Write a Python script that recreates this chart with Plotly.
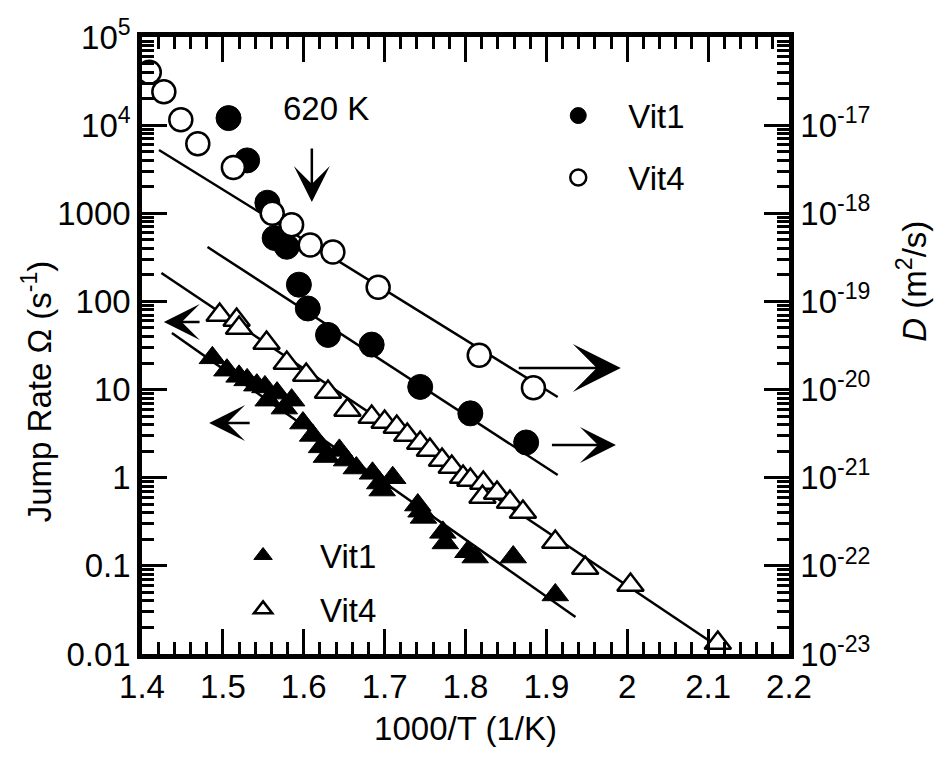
import numpy as np
import plotly.graph_objects as go

# ---------------- data ----------------
# Jump rate (left axis, s^-1) -- triangles
vit1_tri_x = [1.487, 1.505, 1.520, 1.530, 1.542, 1.552, 1.556, 1.567, 1.576, 1.585,
              1.599, 1.611, 1.622, 1.628, 1.644, 1.653, 1.665, 1.685, 1.694, 1.697,
              1.710, 1.741, 1.748, 1.745, 1.772, 1.775, 1.803, 1.812, 1.859, 1.911]
vit1_tri_log = [1.36, 1.22, 1.15, 1.11, 1.05, 1.03, 0.88, 0.96, 0.79, 0.88,
                0.62, 0.48, 0.35, 0.24, 0.31, 0.20, 0.11, 0.05, -0.06, -0.14,
                0.00, -0.31, -0.45, -0.38, -0.62, -0.74, -0.84, -0.90, -0.90, -1.33]
vit4_tri_x = [1.496, 1.517, 1.520, 1.554, 1.579, 1.603, 1.630, 1.654, 1.684, 1.700,
              1.715, 1.728, 1.744, 1.756, 1.771, 1.783, 1.797, 1.806, 1.822, 1.821,
              1.839, 1.855, 1.871, 1.911, 1.948, 2.004, 2.112]
vit4_tri_log = [1.846, 1.789, 1.698, 1.528, 1.301, 1.165, 0.972, 0.768, 0.689, 0.632,
                0.575, 0.484, 0.394, 0.314, 0.201, 0.121, 0.008, -0.026, -0.060, -0.219,
                -0.174, -0.276, -0.389, -0.730, -1.025, -1.217, -1.875]

# Diffusivity (right axis, m^2/s) -- circles, given as log10(D)
vit1_circ_x = [1.507, 1.530, 1.555, 1.564, 1.579, 1.594, 1.605, 1.630, 1.684, 1.744, 1.806, 1.875]
vit1_circ_logD = [-16.92, -17.40, -17.88, -18.28, -18.38, -18.81, -19.08, -19.38, -19.49,
                  -19.97, -20.27, -20.60]
vit4_circ_x = [1.409, 1.427, 1.448, 1.469, 1.513, 1.561, 1.585, 1.608, 1.636, 1.692, 1.817, 1.884]
vit4_circ_logD = [-16.40, -16.62, -16.94, -17.21, -17.48, -18.00, -18.13, -18.36, -18.44,
                  -18.84, -19.61, -19.98]

# Arrhenius fit lines (end points)
fit_vit4_circ_x = [1.421, 1.914]
fit_vit4_circ_logD = [-17.282, -20.084]
fit_vit1_circ_x = [1.481, 1.914]
fit_vit1_circ_logD = [-18.383, -20.969]
fit_vit4_tri_x = [1.424, 2.100]
fit_vit4_tri_log = [2.322, -1.841]
fit_vit1_tri_x = [1.437, 1.936]
fit_vit1_tri_log = [1.642, -1.580]

left_tickvals = [0.01, 0.1, 1, 10, 100, 1000, 1e4, 1e5]
left_ticktext = ["0.01", "0.1", "1", "10", "100", "1000", "10<sup>4</sup>", "10<sup>5</sup>"]
right_tickvals = [1e-23, 1e-22, 1e-21, 1e-20, 1e-19, 1e-18, 1e-17]
right_ticktext = ["10<sup>-23</sup>", "10<sup>-22</sup>", "10<sup>-21</sup>", "10<sup>-20</sup>",
                  "10<sup>-19</sup>", "10<sup>-18</sup>", "10<sup>-17</sup>"]
x_tickvals = [1.4, 1.5, 1.6, 1.7, 1.8, 1.9, 2.0, 2.1, 2.2]
x_ticktext = ["1.4", "1.5", "1.6", "1.7", "1.8", "1.9", "2", "2.1", "2.2"]

FONT = "Liberation Sans, Arial, Helvetica, sans-serif"
FS = 33

def p10(a):
    return [10 ** v for v in a]

fig = go.Figure()

line_style = dict(color="black", width=2.5)
# fit lines (beneath markers)
fig.add_trace(go.Scatter(x=fit_vit4_circ_x, y=p10(fit_vit4_circ_logD), mode="lines", line=line_style,
                         yaxis="y2", showlegend=False, hoverinfo="skip"))
fig.add_trace(go.Scatter(x=fit_vit1_circ_x, y=p10(fit_vit1_circ_logD), mode="lines", line=line_style,
                         yaxis="y2", showlegend=False, hoverinfo="skip"))
fig.add_trace(go.Scatter(x=fit_vit4_tri_x, y=p10(fit_vit4_tri_log), mode="lines", line=line_style,
                         showlegend=False, hoverinfo="skip"))
fig.add_trace(go.Scatter(x=fit_vit1_tri_x, y=p10(fit_vit1_tri_log), mode="lines", line=line_style,
                         showlegend=False, hoverinfo="skip"))

# triangles (jump rate)
fig.add_trace(go.Scatter(x=vit1_tri_x, y=p10(vit1_tri_log), mode="markers", name="Vit1",
                         marker=dict(symbol="triangle-up", size=23, color="black",
                                     line=dict(color="black", width=1)),
                         legend="legend2", legendgroup="t1"))
fig.add_trace(go.Scatter(x=vit4_tri_x, y=p10(vit4_tri_log), mode="markers", name="Vit4",
                         marker=dict(symbol="triangle-up", size=23, color="white",
                                     line=dict(color="black", width=2.5)),
                         legend="legend2", legendgroup="t4"))
# circles (diffusivity)
fig.add_trace(go.Scatter(x=vit1_circ_x, y=p10(vit1_circ_logD), mode="markers", name="Vit1",
                         yaxis="y2",
                         marker=dict(symbol="circle", size=25, color="black",
                                     line=dict(color="black", width=1)),
                         legend="legend", legendgroup="c1"))
fig.add_trace(go.Scatter(x=vit4_circ_x, y=p10(vit4_circ_logD), mode="markers", name="Vit4",
                         yaxis="y2",
                         marker=dict(symbol="circle", size=23, color="white",
                                     line=dict(color="black", width=2.5)),
                         legend="legend", legendgroup="c4"))

axis_common = dict(
    showgrid=False, zeroline=False, showline=True, linecolor="black", linewidth=4.5,
    ticks="inside", ticklen=25, tickwidth=3, tickcolor="black",
    tickfont=dict(family=FONT, size=FS, color="black"),
)

fig.update_layout(
    width=943, height=757,
    margin=dict(l=142, r=154, t=37, b=103),
    paper_bgcolor="white", plot_bgcolor="white",
    font=dict(family=FONT, size=FS, color="black"),
    xaxis=dict(range=[1.4, 2.2], tickmode="array", tickvals=x_tickvals, ticktext=x_ticktext,
               mirror="ticks",
               minor=dict(ticks="inside", dtick=0.02, tick0=1.4, ticklen=12, tickwidth=3,
                          tickcolor="black"),
               title=dict(text="1000/T (1/K)", font=dict(family=FONT, size=FS), standoff=14),
               **axis_common),
    yaxis=dict(type="log", range=[-2, 5], tickmode="array", tickvals=left_tickvals,
               ticktext=left_ticktext,
               minor=dict(ticks="inside", dtick="D1", ticklen=12, tickwidth=3, tickcolor="black"),
               **axis_common),
    yaxis2=dict(type="log", range=[-23, -16], overlaying="y", side="right", anchor="x",
                tickmode="array", tickvals=right_tickvals, ticktext=right_ticktext,
                minor=dict(ticks="inside", dtick="D1", ticklen=12, tickwidth=3, tickcolor="black"),
                **axis_common),
    legend=dict(x=0.597, y=0.918, xanchor="left", yanchor="top", bgcolor="rgba(0,0,0,0)",
                font=dict(family=FONT, size=FS), tracegroupgap=16, itemwidth=90),
    legend2=dict(x=0.099, y=0.205, xanchor="left", yanchor="top", bgcolor="rgba(0,0,0,0)",
                 font=dict(family=FONT, size=FS), tracegroupgap=8, itemwidth=104),
)

# axis titles for y (placed as annotations)
fig.add_annotation(text="Jump Rate Ω (s<sup>-1</sup>)", xref="paper", yref="paper",
                   x=-0.163, y=0.425, textangle=-90, showarrow=False,
                   font=dict(family=FONT, size=FS), xanchor="center", yanchor="middle")
fig.add_annotation(text="<i>D</i> (m<sup>2</sup>/s)", xref="paper", yref="paper",
                   x=1.19, y=0.605, textangle=-90, showarrow=False,
                   font=dict(family=FONT, size=FS), xanchor="center", yanchor="middle")

# 620 K label and arrows
fig.add_annotation(text="620 K", x=1.628, y=4.194, xref="x", yref="y", showarrow=False,
                   font=dict(family=FONT, size=FS))
arrows = [
    # (tip_x, tip_logy, tail_x, tail_logy, size)
    (1.610, 3.128, 1.610, 3.752, 2.4),
    (1.427, 1.767, 1.473, 1.767, 2.4),
    (1.483, 0.621, 1.535, 0.621, 2.4),
    (1.992, 1.245, 1.864, 1.245, 3.2),
    (1.986, 0.371, 1.905, 0.371, 2.4),
]
for tx, ty, sx, sy, sz in arrows:
    fig.add_annotation(x=tx, y=ty, ax=sx, ay=sy, xref="x", yref="y", axref="x", ayref="y",
                       text="", showarrow=True, arrowhead=3, arrowsize=sz, arrowwidth=2.5,
                       arrowcolor="black", standoff=0, startstandoff=0)

fig.write_html("out.html")
